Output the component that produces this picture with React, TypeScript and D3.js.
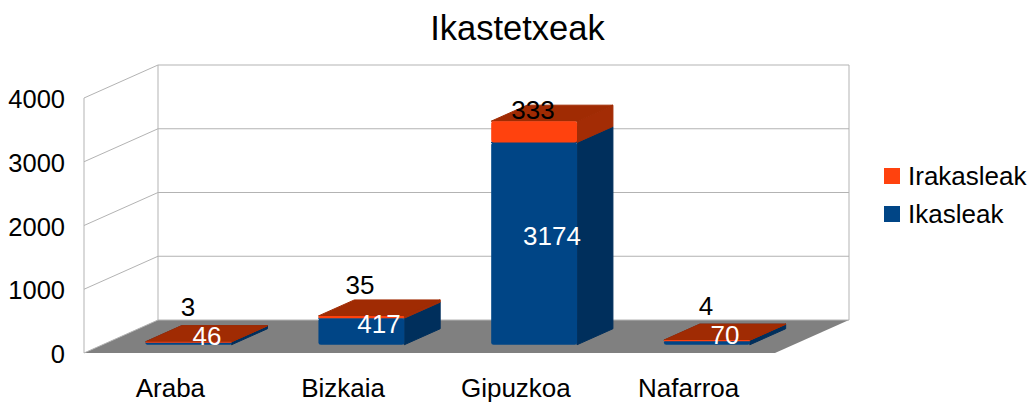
import React from "react";
import * as d3 from "d3";

const categories = ["Araba", "Bizkaia", "Gipuzkoa", "Nafarroa"];
const ikasleak = [46, 417, 3174, 70];
const irakasleak = [3, 35, 333, 4];
const yTicks = [0, 1000, 2000, 3000, 4000];
const legendItems = ["Irakasleak", "Ikasleak"];

const FONT = "'Liberation Sans', Arial, sans-serif";
const BLUE = "#004586", BLUE_SIDE = "#002f5c", BLUE_TOP = "#003a70";
const ORANGE = "#ff420e", ORANGE_SIDE = "#a32c05", ORANGE_TOP = "#a02b03";

const DX = 74, DY = 33;
const x = d3.scaleBand<string>().domain(categories).range([84, 775]).paddingInner(0).paddingOuter(0);
const y = d3.scaleLinear().domain([0, 4000]).range([353, 98]);
const px = (v: number, z: number) => v + DX * z;
const py = (v: number, z: number) => y(v) - DY * z;
const poly = (pts: [number, number][]) => d3.line()(pts) + "Z";

function Block({ cat, from, to, front, side, top }: { cat: string; from: number; to: number; front: string; side: string; top: string }) {
  const step = x.bandwidth();
  const l = (x(cat) as number) + step * 0.25;
  const r = l + step * 0.497;
  const z0 = 0.25, z1 = 0.735;
  const h = py(from, z0) - py(to, z0);
  return (
    <g>
      <path d={poly([[px(r, z0), py(from, z0)], [px(r, z1), py(from, z1)], [px(r, z1), py(to, z1)], [px(r, z0), py(to, z0)]])} fill={side} stroke={side} strokeWidth={1} strokeLinejoin="round" />
      <path d={poly([[px(l, z0), py(to, z0)], [px(l, z1), py(to, z1)], [px(r, z1), py(to, z1)], [px(r, z0), py(to, z0)]])} fill={top} stroke={top} strokeWidth={1} strokeLinejoin="round" />
      <rect x={px(l, z0)} y={py(to, z0)} width={r - l} height={Math.max(h, 1.2)} rx={Math.min(2.5, h / 2)} fill={front} />
    </g>
  );
}

const labelsInside: [number, number][] = [[207, 345], [379, 333], [552, 245], [725, 344]];
const labelsTop: [number, number][] = [[188, 316], [360, 294], [533, 119], [706, 315]];

export default function App() {
  const textBase = { fontFamily: FONT };
  return (
    <svg width={1032} height={403} style={{ position: "absolute", left: 0, top: 0, background: "#fff" }}>
      <text x={517.5} y={40} textAnchor="middle" fontSize={34.5} fill="#000" {...textBase}>Ikastetxeak</text>

      {/* floor */}
      <path d={poly([[px(84, 0), py(0, 0)], [px(84, 1), py(0, 1)], [px(775, 1), py(0, 1)], [px(775, 0), py(0, 0)]])} fill="#808080" />

      {/* walls */}
      <g stroke="#b3b3b3" strokeWidth={1} fill="none">
        {yTicks.map((t) => (
          <path key={t} d={d3.line()([[px(84, 0), py(t, 0)], [px(84, 1), py(t, 1)], [px(775, 1), py(t, 1)]]) as string} />
        ))}
        <line x1={84} x2={84} y1={y(0)} y2={y(4000)} />
        <line x1={px(84, 1)} x2={px(84, 1)} y1={py(0, 1)} y2={py(4000, 1)} />
        <line x1={px(775, 1)} x2={px(775, 1)} y1={py(0, 1)} y2={py(4000, 1)} />
      </g>

      {/* bars */}
      {categories.map((c, i) => (
        <g key={c}>
          <Block cat={c} from={0} to={ikasleak[i]} front={BLUE} side={BLUE_SIDE} top={BLUE_TOP} />
          <Block cat={c} from={ikasleak[i]} to={ikasleak[i] + irakasleak[i]} front={ORANGE} side={ORANGE_SIDE} top={ORANGE_TOP} />
        </g>
      ))}

      {/* y ticks */}
      {yTicks.map((t) => (
        <text key={t} x={65} y={y(t) + 10} textAnchor="end" fontSize={25.5} fill="#000" {...textBase}>{t}</text>
      ))}

      {/* category labels */}
      {categories.map((c) => (
        <text key={c} x={(x(c) as number) + x.bandwidth() / 2} y={397} textAnchor="middle" fontSize={26} fill="#000" {...textBase}>{c}</text>
      ))}

      {/* data labels */}
      {ikasleak.map((v, i) => (
        <text key={i} x={labelsInside[i][0]} y={labelsInside[i][1]} textAnchor="middle" fontSize={26} fill="#fff" {...textBase}>{v}</text>
      ))}
      {irakasleak.map((v, i) => (
        <text key={i} x={labelsTop[i][0]} y={labelsTop[i][1]} textAnchor="middle" fontSize={26} fill="#000" {...textBase}>{v}</text>
      ))}

      {/* legend */}
      {legendItems.map((l, i) => (
        <g key={l}>
          <rect x={884} y={168 + i * 38} width={16} height={16} fill={i === 0 ? ORANGE : BLUE} />
          <text x={908} y={185 + i * 37.5} fontSize={26} fill="#000" {...textBase}>{l}</text>
        </g>
      ))}
    </svg>
  );
}
